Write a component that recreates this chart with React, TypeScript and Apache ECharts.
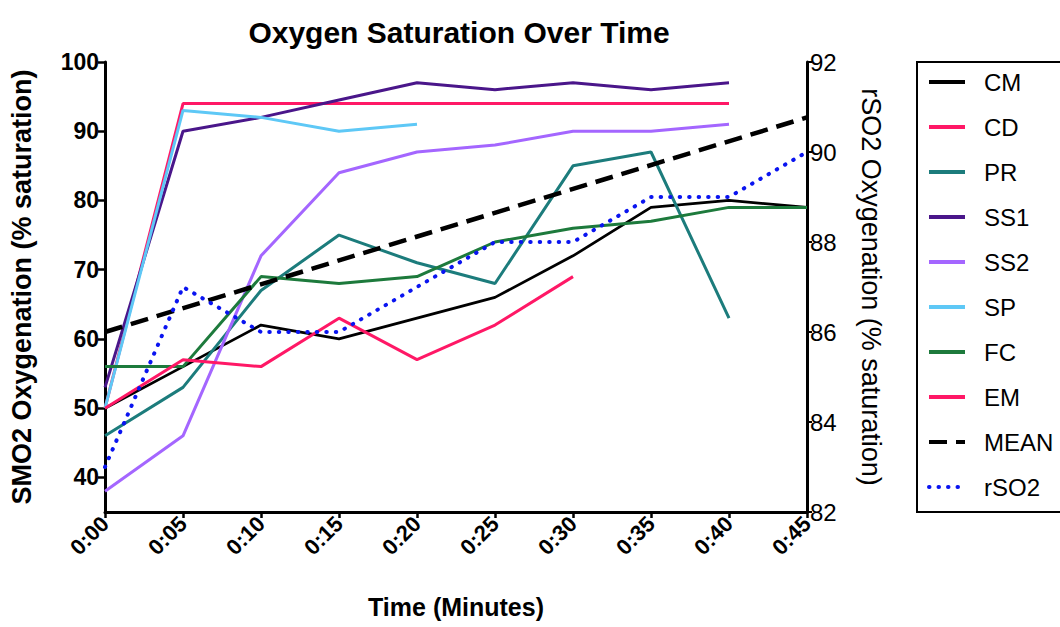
import React, { useEffect, useRef } from "react";
import * as echarts from "echarts";

const times = [0, 5, 10, 15, 20, 25, 30, 35, 40, 45];
const cm = [50, 56, 62, 60, 63, 66, 72, 79, 80, 79];
const cd = [50, 94, 94, 94, 94, 94, 94, 94, 94];
const pr = [46, 53, 67, 75, 71, 68, 85, 87, 63];
const ss1 = [53, 90, 92, 94.5, 97, 96, 97, 96, 97];
const ss2 = [38, 46, 72, 84, 87, 88, 90, 90, 91];
const sp = [50, 93, 92, 90, 91];
const fc = [56, 56, 69, 68, 69, 74, 76, 77, 79, 79];
const em = [50, 57, 56, 63, 57, 62, 69];
const meanTimes = [0, 45];
const mean = [61, 92];
const rso2 = [83, 87, 86, 86, 87, 88, 88, 89, 89, 90];
const leftTicks = [40, 50, 60, 70, 80, 90, 100];

const FONT = "Liberation Sans, Arial, sans-serif";

const pairs = (xs: number[], ys: number[]) => ys.map((y, i) => [xs[i], y]);

export default function App() {
  const ref = useRef<HTMLDivElement>(null);
  useEffect(() => {
    if (!ref.current) return;
    const chart = echarts.init(ref.current, undefined, { renderer: "svg" });
    const line = (name: string, data: number[], color: string, width = 3, extra: any = {}) => ({
      name,
      type: "line",
      data: pairs(extra.xs || times, data),
      yAxisIndex: extra.yAxisIndex || 0,
      symbol: "none",
      lineStyle: { color, width, type: extra.type || "solid", cap: extra.cap || "butt" },
      itemStyle: { color },
      z: extra.z || 2,
    });
    chart.setOption({
      animation: false,
      backgroundColor: "#ffffff",
      title: {
        text: "Oxygen Saturation Over Time",
        left: 454,
        textAlign: "center",
        top: 12,
        textStyle: { fontFamily: FONT, fontSize: 30, fontWeight: "bold", color: "#000" },
      },
      grid: { left: 104, right: 253, top: 62, bottom: 115 },
      legend: {
        orient: "vertical",
        left: 927,
        top: 70,
        itemWidth: 36,
        itemHeight: 14,
        itemGap: 21,
        padding: 0,
        itemStyle: { opacity: 0 },
        lineStyle: { width: 4 },
        data: ["CM", "CD", "PR", "SS1", "SS2", "SP", "FC", "EM", "MEAN", "rSO2"],
        textStyle: { fontFamily: FONT, fontSize: 24, color: "#000", padding: [0, 0, 0, 14] },
      },
      graphic: [
        {
          type: "rect",
          shape: { x: 917, y: 62, width: 300, height: 450 },
          style: { fill: "none", stroke: "#000", lineWidth: 2 },
        },
      ],
      xAxis: {
        type: "value",
        min: 0,
        max: 45,
        interval: 5,
        name: "Time (Minutes)",
        nameLocation: "middle",
        nameGap: 82,
        nameTextStyle: { fontFamily: FONT, fontSize: 25, fontWeight: "bold", color: "#000" },
        axisLine: { lineStyle: { color: "#000", width: 3 } },
        axisTick: { length: 6, lineStyle: { color: "#000", width: 2.5 } },
        splitLine: { show: false },
        axisLabel: {
          rotate: 45,
          margin: 8,
          fontFamily: FONT,
          fontSize: 22,
          fontWeight: "bold",
          color: "#000",
          formatter: (v: number) => "0:" + (v < 10 ? "0" + v : String(v)),
        },
      },
      yAxis: [
        {
          type: "value",
          min: 35,
          max: 100,
          position: "left",
          name: "SMO2 Oxygenation (% saturation)",
          nameLocation: "middle",
          nameRotate: 90,
          nameGap: 70,
          nameTextStyle: { fontFamily: FONT, fontSize: 27, fontWeight: "bold", color: "#000" },
          axisLine: { show: true, lineStyle: { color: "#000", width: 3 } },
          axisTick: { show: true, length: 7, customValues: leftTicks, lineStyle: { color: "#000", width: 2.5 } },
          splitLine: { show: false },
          axisLabel: {
            customValues: leftTicks,
            margin: 6,
            fontFamily: FONT,
            fontSize: 23,
            fontWeight: "bold",
            color: "#000",
          },
        },
        {
          type: "value",
          min: 82,
          max: 92,
          interval: 2,
          position: "right",
          name: "rSO2 Oxygenation (% saturation)",
          nameLocation: "middle",
          nameRotate: -90,
          nameGap: 50,
          nameTextStyle: { fontFamily: FONT, fontSize: 27, color: "#000" },
          axisLine: { show: true, lineStyle: { color: "#000", width: 3 } },
          axisTick: { show: true, length: 5, lineStyle: { color: "#000", width: 2 } },
          splitLine: { show: false },
          axisLabel: { margin: 3, fontFamily: FONT, fontSize: 24, color: "#000" },
        },
      ],
      series: [
        line("CM", cm, "#000000", 2.8),
        line("CD", cd, "#ff1866", 3),
        line("PR", pr, "#1c7c7c", 3),
        line("SS1", ss1, "#4a168a", 3),
        line("SS2", ss2, "#a466ff", 3),
        line("SP", sp, "#5ec8f6", 3),
        line("FC", fc, "#1d7a3c", 3),
        line("EM", em, "#ff1866", 3),
        line("MEAN", mean, "#000000", 4.5, { xs: meanTimes, type: [18, 9], z: 3 }),
        line("rSO2", rso2, "#0a14f0", 4, { yAxisIndex: 1, type: [0.5, 9], cap: "round", z: 4 }),
      ],
    });
    return () => chart.dispose();
  }, []);
  return (
    <div
      ref={ref}
      style={{ position: "fixed", left: 0, top: 0, width: 1060, height: 627, background: "#fff" }}
    />
  );
}
